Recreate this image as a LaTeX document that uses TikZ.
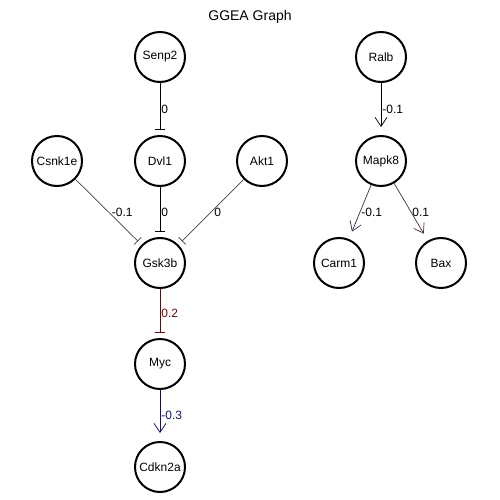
\documentclass[tikz,border=0pt]{standalone}
\usepackage{fontspec}
\setmainfont{Liberation Sans}
\usetikzlibrary{arrows.meta}
\definecolor{redE}{RGB}{100,10,10}
\definecolor{blueE}{RGB}{15,15,110}
\definecolor{blueL}{RGB}{50,50,75}
\definecolor{redL}{RGB}{75,50,50}
\tikzset{
  gene/.style={circle,draw=black,line width=2pt,minimum size=50pt,inner sep=0pt,font=\fontsize{12}{14}\selectfont,fill=white},
  edge/.style={line width=0.7pt,shorten >=8pt},
  act/.style={edge,-{Straight Barb[length=9pt,width=12pt,line width=0.7pt]}},
  inh/.style={edge,-{Bar[width=10pt,line width=0.7pt]},shorten >=5pt},
  elab/.style={font=\fontsize{12}{14}\selectfont,inner sep=1pt,anchor=west}
}
\begin{document}
\begin{tikzpicture}[x=1pt,y=-1pt]
\useasboundingbox (0,0) rectangle (500,500);
\node[font=\fontsize{14}{16}\selectfont] (title) at (250,17) {GGEA Graph};
\node[gene] (senp2) at (160,57) {Senp2};
\node[gene] (dvl1) at (160,161) {Dvl1};
\node[gene] (csnk1e) at (57,161) {Csnk1e};
\node[gene] (akt1) at (262,161) {Akt1};
\node[gene] (gsk3b) at (160,263) {Gsk3b};
\node[gene] (myc) at (160,364) {Myc};
\node[gene] (cdkn2a) at (160,467) {Cdkn2a};
\node[gene] (ralb) at (381,57) {Ralb};
\node[gene] (mapk8) at (381,161) {Mapk8};
\node[gene] (carm1) at (339,263) {Carm1};
\node[gene] (bax) at (441,263) {Bax};
\draw[inh] (senp2) -- (dvl1) node[pos=0.5,elab] {0};
\draw[inh,draw=black!75] (csnk1e) -- (gsk3b) node[pos=0.5,elab,xshift=2pt] {-0.1};
\draw[inh] (dvl1) -- (gsk3b) node[pos=0.5,elab] {0};
\draw[inh,draw=black!75] (akt1) -- (gsk3b) node[pos=0.5,elab,xshift=2pt] {0};
\draw[inh,draw=redE] (gsk3b) -- (myc) node[pos=0.5,elab,text=redE] {0.2};
\draw[act,draw=blueE] (myc) -- (cdkn2a) node[pos=0.5,elab,text=blueE] {-0.3};
\draw[act] (ralb) -- (mapk8) node[pos=0.5,elab] {-0.1};
\draw[act,draw=blueL] (mapk8) -- (carm1) node[pos=0.5,elab] {-0.1};
\draw[act,draw=redL] (mapk8) -- (bax) node[pos=0.5,elab] {0.1};
\end{tikzpicture}
\end{document}
